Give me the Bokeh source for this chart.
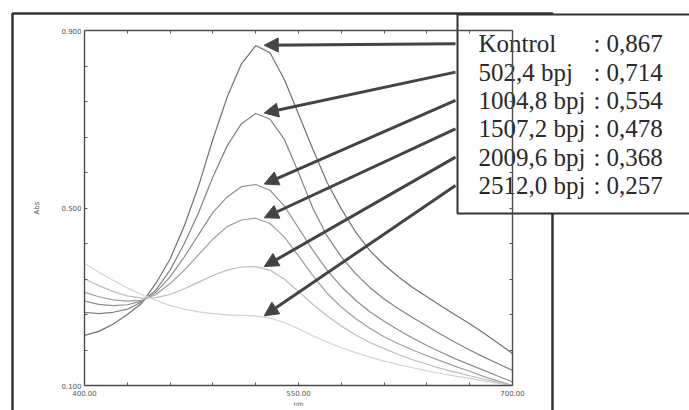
from bokeh.plotting import figure
from bokeh.models import (Range1d, FixedTicker, LinearAxis, BoxAnnotation,
                          Arrow, NormalHead)
from bokeh.core.properties import value
from bokeh.embed import file_html
from bokeh.resources import INLINE

# ---------------- data ----------------
wavelength = [400, 410, 420, 430, 440, 450, 460, 470, 480, 490, 500,
              510, 520, 530, 540, 550, 560, 570, 580, 590, 600,
              610, 620, 630, 640, 650, 660, 670, 680, 690, 700]

kontrol = [0.213, 0.222, 0.238, 0.260, 0.285, 0.330, 0.385, 0.460, 0.550, 0.655, 0.750,
           0.825, 0.866, 0.850, 0.790, 0.712, 0.633, 0.558, 0.498, 0.446, 0.404,
           0.372, 0.345, 0.321, 0.300, 0.279, 0.259, 0.239, 0.218, 0.195, 0.172]

bpj_502_4 = [0.265, 0.262, 0.265, 0.272, 0.288, 0.315, 0.360, 0.420, 0.490, 0.570, 0.640,
             0.690, 0.713, 0.700, 0.655, 0.580, 0.500, 0.437, 0.390, 0.352, 0.321,
             0.295, 0.273, 0.253, 0.234, 0.215, 0.197, 0.180, 0.164, 0.149, 0.134]

bpj_1004_8 = [0.290, 0.283, 0.280, 0.282, 0.290, 0.310, 0.345, 0.390, 0.440, 0.490, 0.525,
              0.548, 0.553, 0.540, 0.505, 0.455, 0.405, 0.360, 0.323, 0.292, 0.266,
              0.245, 0.225, 0.207, 0.190, 0.175, 0.160, 0.147, 0.134, 0.121, 0.108]

bpj_1507_2 = [0.310, 0.300, 0.293, 0.290, 0.292, 0.305, 0.330, 0.360, 0.395, 0.430, 0.458,
              0.473, 0.477, 0.465, 0.435, 0.392, 0.348, 0.308, 0.277, 0.251, 0.229,
              0.210, 0.194, 0.180, 0.167, 0.155, 0.143, 0.132, 0.120, 0.110, 0.100]

bpj_2009_6 = [0.340, 0.325, 0.312, 0.302, 0.297, 0.298, 0.305, 0.318, 0.333, 0.348, 0.360,
              0.367, 0.368, 0.360, 0.340, 0.312, 0.283, 0.257, 0.234, 0.214, 0.197,
              0.183, 0.170, 0.158, 0.148, 0.138, 0.130, 0.122, 0.114, 0.107, 0.100]

bpj_2512_0 = [0.375, 0.355, 0.337, 0.320, 0.305, 0.292, 0.280, 0.272, 0.266, 0.262, 0.259,
              0.258, 0.257, 0.252, 0.242, 0.228, 0.212, 0.198, 0.185, 0.174, 0.164,
              0.155, 0.147, 0.140, 0.133, 0.127, 0.121, 0.116, 0.110, 0.105, 0.100]

series = [kontrol, bpj_502_4, bpj_1004_8, bpj_1507_2, bpj_2009_6, bpj_2512_0]
series_names = ["Kontrol", "502,4 bpj", "1004,8 bpj", "1507,2 bpj", "2009,6 bpj", "2512,0 bpj"]
peak_labels = ["0,867", "0,714", "0,554", "0,478", "0,368", "0,257"]
peak_values = [0.867, 0.714, 0.554, 0.478, 0.368, 0.257]

x_major = [400, 550, 700]
x_major_labels = ["400.00", "550.00", "700.00"]
x_minor = [430, 460, 490, 520, 580, 610, 640, 670]
y_major = [0.1, 0.5, 0.9]
y_major_labels = ["0.100", "0.500", "0.900"]
y_minor = [0.18, 0.26, 0.34, 0.42, 0.58, 0.66, 0.74, 0.82]

X_LO, X_HI = 400, 700
Y_LO, Y_HI = 0.1, 0.9

# ---------------- layout geometry (pixels in the canvas) ----------------
W, H = 689, 410
FRAME_L, FRAME_R, FRAME_T, FRAME_B = 84, 512, 30, 385
px_per_x = (FRAME_R - FRAME_L) / (X_HI - X_LO)
px_per_y = (FRAME_B - FRAME_T) / (Y_HI - Y_LO)

x0 = X_LO - FRAME_L / px_per_x
x1 = X_HI + (W - FRAME_R) / px_per_x
y0 = Y_LO - (H - FRAME_B) / px_per_y
y1 = Y_HI + FRAME_T / px_per_y


def to_dx(px):
    return x0 + px / px_per_x


def to_dy(py):
    return y1 - py / px_per_y


p = figure(width=W, height=H, output_backend="svg", toolbar_location=None,
           x_range=Range1d(x0, x1), y_range=Range1d(y0, y1),
           x_axis_location=None, y_axis_location=None,
           min_border=0, min_border_left=0, min_border_right=0,
           min_border_top=0, min_border_bottom=0)
p.xgrid.visible = False
p.ygrid.visible = False
p.outline_line_color = None
p.background_fill_color = "white"
p.border_fill_color = "white"

xt = FixedTicker(ticks=x_major, minor_ticks=x_minor)
yt = FixedTicker(ticks=y_major, minor_ticks=y_minor)
# tick marks only (no labels) for the top and right frame sides
xt_plain = FixedTicker(ticks=[], minor_ticks=sorted(x_major + x_minor))
yt_plain = FixedTicker(ticks=[], minor_ticks=sorted(y_major + y_minor))


def style_axis(ax):
    ax.axis_line_color = "#4a4a4a"
    ax.axis_line_width = 1.4
    ax.major_tick_in = 3
    ax.major_tick_out = 0
    ax.minor_tick_in = 3
    ax.minor_tick_out = 0
    ax.major_tick_line_color = "#555555"
    ax.minor_tick_line_color = "#555555"
    ax.major_label_text_font = "DejaVu Sans"
    ax.major_label_text_color = "#555555"
    ax.major_label_text_font_size = "7px"
    ax.axis_label_text_font = "DejaVu Sans"
    ax.axis_label_text_font_style = "normal"
    ax.axis_label_text_color = "#555555"


xb = LinearAxis(ticker=xt, fixed_location=Y_LO, bounds=(X_LO, X_HI), axis_label="nm",
                major_label_overrides=dict(zip(x_major, x_major_labels)))
style_axis(xb)
xb.major_label_standoff = 4
xb.axis_label_standoff = 1
xb.axis_label_text_font_size = "6px"
p.add_layout(xb, "below")

yl = LinearAxis(ticker=yt, fixed_location=X_LO, bounds=(Y_LO, Y_HI), axis_label="Abs",
                major_label_overrides=dict(zip(y_major, y_major_labels)))
style_axis(yl)
yl.major_label_standoff = 3
yl.axis_label_standoff = 17
yl.axis_label_text_font_size = "7px"
p.add_layout(yl, "left")

xa = LinearAxis(ticker=xt_plain, fixed_location=Y_HI, bounds=(X_LO, X_HI))
style_axis(xa)
p.add_layout(xa, "above")

yr = LinearAxis(ticker=yt_plain, fixed_location=X_HI, bounds=(Y_LO, Y_HI))
style_axis(yr)
p.add_layout(yr, "right")

# outer frame of the scanned figure (drawn beneath the glyphs)
p.add_layout(BoxAnnotation(left=12, right=552, top=13, bottom=460,
                           left_units="canvas", right_units="canvas",
                           top_units="canvas", bottom_units="canvas",
                           fill_alpha=0, line_color="#333333", line_alpha=1,
                           line_width=2.5, level="underlay"))
# text box (beneath the text glyphs)
p.add_layout(BoxAnnotation(left=457, right=720, top=14, bottom=213,
                           left_units="canvas", right_units="canvas",
                           top_units="canvas", bottom_units="canvas",
                           fill_color="white", fill_alpha=1,
                           line_color="#333333", line_alpha=1, line_width=2,
                           level="underlay"))

colors = ["#727272", "#828282", "#8f8f8f", "#9e9e9e", "#c4b8c8", "#d8cdda"]
for ys, c in zip(series, colors):
    p.line(wavelength, ys, line_color=c, line_width=1.2)

row_y0 = 43.3
row_dy = 28.33
row_px = [row_y0 + i * row_dy for i in range(len(series_names))]

for ry, pv, ys in zip(row_px, peak_values, series):
    # wavelength (in the band region) where the curve meets its labelled peak value
    cand = [(abs(v - pv), w) for w, v in zip(wavelength, ys) if 500 <= w <= 560]
    peak_wl = min(cand)[1]
    p.add_layout(Arrow(end=NormalHead(size=14, fill_color="#444444", line_color="#444444"),
                       x_start=455, y_start=ry, start_units="canvas",
                       x_end=peak_wl + 6, y_end=pv, end_units="data",
                       line_color="#444444", line_width=3))

ty = [to_dy(ry) for ry in row_px]
n = len(ty)
text_style = dict(text_font=value("Liberation Serif"), text_font_size="25px",
                  text_baseline="middle", text_align="left", text_color="#2a2a2a")
p.text(x=[to_dx(478)] * n, y=ty, text=series_names, **text_style)
p.text(x=[to_dx(593)] * n, y=ty, text=[":"] * n, **text_style)
p.text(x=[to_dx(606)] * n, y=ty, text=peak_labels, **text_style)

open("out.html", "w").write(file_html(p, INLINE))
